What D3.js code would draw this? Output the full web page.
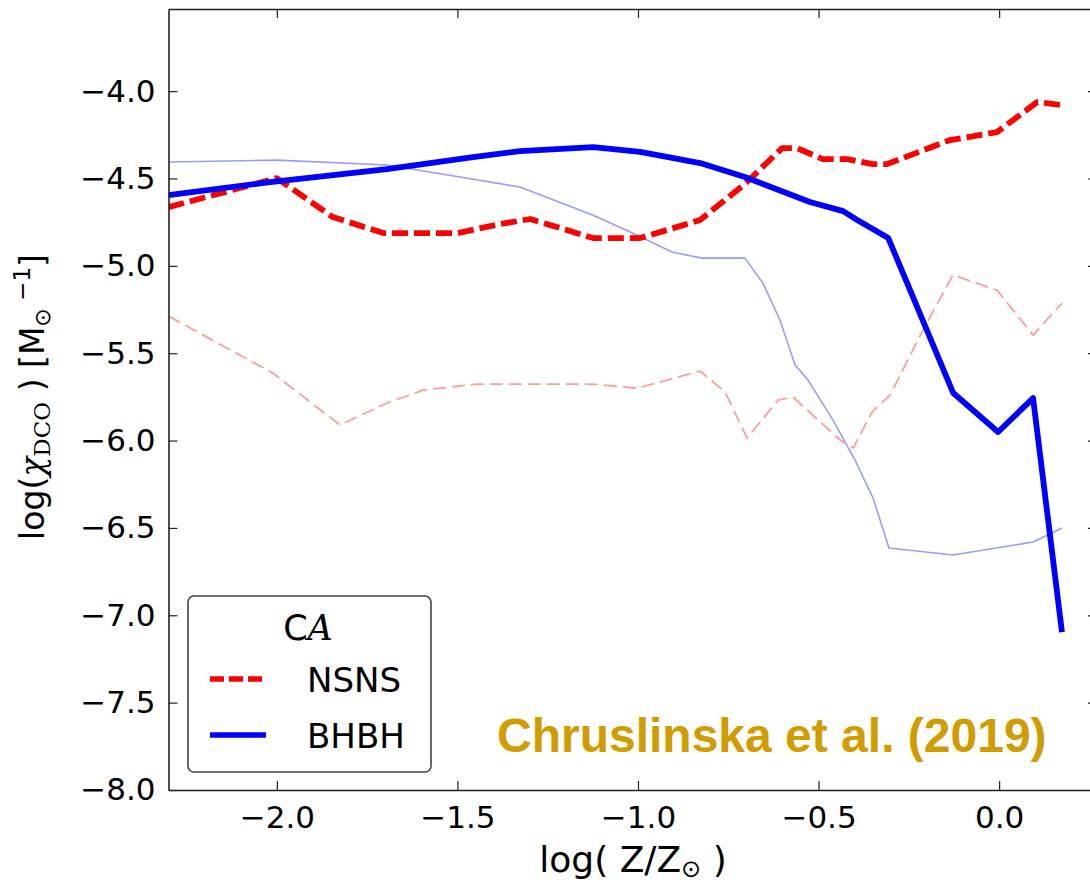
<!DOCTYPE html>
<html>
<head>
<meta charset="utf-8">
<script src="https://cdn.jsdelivr.net/npm/d3@7"></script>
<style>
  html, body { margin: 0; padding: 0; background: #fff; }
  svg { display: block; }
</style>
</head>
<body>
<div id="chartArea"></div>
<script>
// values (log Z/Zsun, log chi_DCO)
const nsnsX = [-2.30, -2.00, -1.845, -1.703, -1.50, -1.382, -1.299, -1.124, -0.994, -0.828, -0.703, -0.601, -0.560, -0.488, -0.421, -0.350, -0.311, -0.136, -0.006, 0.105, 0.174];
const nsnsY = [-4.664, -4.498, -4.721, -4.813, -4.813, -4.761, -4.732, -4.841, -4.841, -4.738, -4.53, -4.326, -4.326, -4.389, -4.389, -4.418, -4.418, -4.280, -4.235, -4.063, -4.080];

const bhbhX = [-2.30, -2.019, -1.695, -1.457, -1.327, -1.124, -0.994, -0.828, -0.704, -0.524, -0.432, -0.393, -0.307, -0.127, -0.003, 0.094, 0.174];
const bhbhY = [-4.595, -4.521, -4.446, -4.378, -4.343, -4.320, -4.348, -4.412, -4.492, -4.635, -4.687, -4.738, -4.841, -5.728, -5.951, -5.757, -7.096];

// faint comparison curves
const nsnsAltX = [-2.30, -2.011, -1.825, -1.695, -1.595, -1.446, -1.124, -1.002, -0.828, -0.759, -0.698, -0.612, -0.571, -0.440, -0.404, -0.352, -0.302, -0.211, -0.128, -0.006, 0.094, 0.174];
const nsnsAltY = [-5.288, -5.614, -5.911, -5.785, -5.711, -5.677, -5.677, -5.700, -5.602, -5.722, -5.986, -5.768, -5.751, -5.997, -6.043, -5.837, -5.740, -5.368, -5.053, -5.139, -5.396, -5.213];

const bhbhAltX = [-2.30, -2.00, -1.695, -1.493, -1.327, -1.124, -1.014, -0.906, -0.823, -0.704, -0.654, -0.607, -0.565, -0.529, -0.460, -0.399, -0.349, -0.305, -0.128, 0.094, 0.174];
const bhbhAltY = [-4.406, -4.395, -4.423, -4.492, -4.549, -4.710, -4.813, -4.921, -4.956, -4.956, -5.099, -5.310, -5.568, -5.654, -5.883, -6.112, -6.329, -6.615, -6.655, -6.581, -6.501];

const xTicks = [-2.0, -1.5, -1.0, -0.5, 0.0];
const yTicks = [-8.0, -7.5, -7.0, -6.5, -6.0, -5.5, -5.0, -4.5, -4.0];

const width = 1090;
const height = 884;
const plot = { left: 168.5, right: 1097, top: 9, bottom: 790 };

const svg = d3.select("#chartArea")
  .append("svg")
  .attr("width", width)
  .attr("height", height)
  .attr("font-family", "DejaVu Sans")
  .attr("fill", "#000");

const x = d3.scaleLinear().domain([-2.3, 0.271]).range([plot.left, plot.right]);
const y = d3.scaleLinear().domain([-8, -3.53]).range([plot.bottom, plot.top]);

svg.append("clipPath").attr("id", "clip")
  .append("rect")
  .attr("x", plot.left).attr("y", plot.top)
  .attr("width", plot.right - plot.left).attr("height", plot.bottom - plot.top);

const zip = (xs, ys) => xs.map((v, i) => [v, ys[i]]);
const line = d3.line().x(d => x(d[0])).y(d => y(d[1]));

const series = [
  { data: zip(bhbhAltX, bhbhAltY), color: "#9a9aff", width: 1.6, dash: null },
  { data: zip(nsnsAltX, nsnsAltY), color: "#ff9c9c", width: 1.8, dash: "13,6" },
  { data: zip(nsnsX, nsnsY), color: "#ff0000", width: 5.8, dash: "16,6" },
  { data: zip(bhbhX, bhbhY), color: "#0000ff", width: 5.8, dash: null }
];

const lines = svg.append("g").attr("clip-path", "url(#clip)");
series.forEach(s => {
  lines.append("path")
    .datum(s.data)
    .attr("fill", "none")
    .attr("stroke", s.color)
    .attr("stroke-width", s.width)
    .attr("stroke-dasharray", s.dash)
    .attr("stroke-linejoin", "round")
    .attr("d", line);
});

// axes, ticks pointing inward
const fmt = d3.format(".1f");
const styleAxis = g => {
  g.select(".domain").attr("stroke", "#222").attr("stroke-width", 1.6);
  g.selectAll(".tick line").attr("stroke", "#222").attr("stroke-width", 1.2);
  g.selectAll("text").attr("font-family", "DejaVu Sans").attr("font-size", 31).attr("fill", "#000");
};

svg.append("g")
  .attr("transform", `translate(0,${plot.bottom})`)
  .call(d3.axisBottom(x).tickValues(xTicks).tickFormat(fmt).tickSizeInner(-9).tickSizeOuter(0).tickPadding(16))
  .call(styleAxis);

svg.append("g")
  .attr("transform", `translate(0,${plot.top})`)
  .call(d3.axisTop(x).tickValues(xTicks).tickFormat("").tickSizeInner(-9).tickSizeOuter(0))
  .call(styleAxis);

svg.append("g")
  .attr("transform", `translate(${plot.left},0)`)
  .call(d3.axisLeft(y).tickValues(yTicks).tickFormat(fmt).tickSizeInner(-9).tickSizeOuter(0).tickPadding(13))
  .call(styleAxis);

svg.append("g")
  .attr("transform", `translate(${plot.right},0)`)
  .call(d3.axisRight(y).tickValues(yTicks).tickFormat("").tickSizeInner(-9).tickSizeOuter(0))
  .call(styleAxis);

// axis labels
const xl = svg.append("text")
  .attr("x", 633).attr("y", 872)
  .attr("text-anchor", "middle")
  .attr("font-size", 36);
xl.append("tspan").text("log( Z/Z");
xl.append("tspan").attr("font-size", 24).attr("dy", 5).text("\u2299");
xl.append("tspan").attr("dy", -5).text(" )");

const yl = svg.append("text")
  .attr("transform", "translate(44,397) rotate(-90)")
  .attr("text-anchor", "middle")
  .attr("font-size", 33);
yl.append("tspan").text("log(");
yl.append("tspan").attr("font-family", "DejaVu Serif").attr("font-style", "italic").text("\u03c7");
yl.append("tspan").attr("font-family", "DejaVu Serif").attr("font-size", 23).attr("dy", 6).text("DCO");
yl.append("tspan").attr("dy", -6).text(" )  [M");
yl.append("tspan").attr("font-size", 22).attr("dy", 6).text("\u2299");
yl.append("tspan").attr("font-size", 23).attr("dy", -20).text(" \u22121");
yl.append("tspan").attr("dy", 14).text("]");

// legend
const legend = svg.append("g");
legend.append("rect")
  .attr("x", 188).attr("y", 596).attr("width", 243).attr("height", 176)
  .attr("rx", 6).attr("fill", "#fff").attr("stroke", "#444").attr("stroke-width", 1.6);
const lt = legend.append("text")
  .attr("x", 308).attr("y", 640).attr("text-anchor", "middle")
  .attr("font-size", 35);
lt.append("tspan").text("C");
lt.append("tspan").attr("font-family", "DejaVu Serif").attr("font-style", "italic").text("A");

const legendItems = [
  { label: "NSNS", color: "#ff0000", dash: "14,5", y: 679 },
  { label: "BHBH", color: "#0000ff", dash: null, y: 735 }
];
legendItems.forEach(d => {
  legend.append("line")
    .attr("x1", 210).attr("x2", 266).attr("y1", d.y).attr("y2", d.y)
    .attr("stroke", d.color).attr("stroke-width", 5.5).attr("stroke-dasharray", d.dash);
  legend.append("text")
    .attr("x", 307).attr("y", d.y + 13)
    .attr("font-size", 34).text(d.label);
});

// citation
svg.append("text")
  .attr("x", 497).attr("y", 752)
  .attr("font-family", "Liberation Sans, Arial, sans-serif")
  .attr("font-weight", "bold").attr("font-size", 48)
  .attr("fill", "#d09c00")
  .text("Chruslinska et al. (2019)");
</script>
</body>
</html>
